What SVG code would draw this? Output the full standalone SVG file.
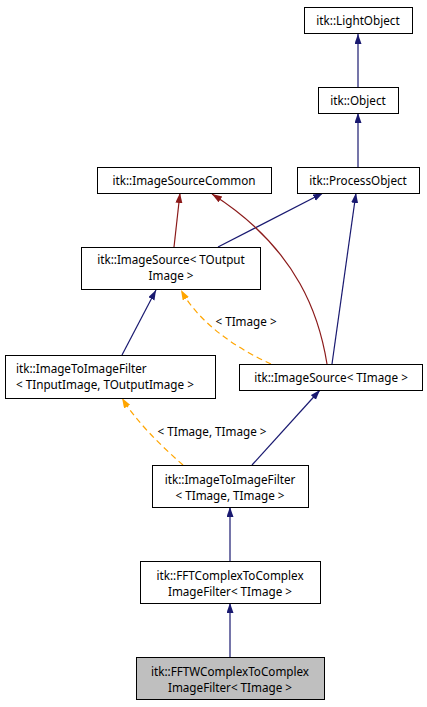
<svg xmlns="http://www.w3.org/2000/svg" width="427" height="707" viewBox="0 0 427 707">
<defs>
<style>
.box{fill:#ffffff;stroke:#000000;stroke-width:1}
.cur{fill:#bfbfbf;stroke:#000000;stroke-width:1}
text{font-family:"Noto Sans","DejaVu Sans",sans-serif;font-size:11.7px;fill:#000000}
.c{text-anchor:middle}
.e{fill:none;stroke-width:1.2}
.b{stroke:#191970}
.r{stroke:#8b1a1a}
.o{stroke:#ffa500;stroke-dasharray:6,4}
</style>
<marker id="ab" markerUnits="userSpaceOnUse" markerWidth="11" markerHeight="8" refX="10" refY="3.5" orient="auto"><path d="M0,0 L10,3.5 L0,7 z" fill="#191970"/></marker>
<marker id="ar" markerUnits="userSpaceOnUse" markerWidth="11" markerHeight="8" refX="10" refY="3.5" orient="auto"><path d="M0,0 L10,3.5 L0,7 z" fill="#8b1a1a"/></marker>
<marker id="ao" markerUnits="userSpaceOnUse" markerWidth="11" markerHeight="8" refX="10" refY="3.5" orient="auto"><path d="M0,0 L10,3.5 L0,7 z" fill="#ffa500"/></marker>
</defs>
<rect width="427" height="707" fill="#ffffff"/>
<g id="edges">
<path class="e b" d="M358,87 L358,34" marker-end="url(#ab)"/>
<path class="e b" d="M358,167 L358,113" marker-end="url(#ab)"/>
<path class="e r" d="M174,247 L180,193" marker-end="url(#ar)"/>
<path class="e b" d="M218,247 L323,193" marker-end="url(#ab)"/>
<path class="e r" d="M327,364 C320,320 300,250 212,194" marker-end="url(#ar)"/>
<path class="e b" d="M332,364 L356,193" marker-end="url(#ab)"/>
<path class="e o" d="M271,364 C240,350 200,325 181,290" marker-end="url(#ao)"/>
<text class="c" x="246" y="326">&lt; TImage &gt;</text>
<path class="e b" d="M122,355 L156,290" marker-end="url(#ab)"/>
<path class="e o" d="M183,465 C160,445 135,420 122,398" marker-end="url(#ao)"/>
<text class="c" x="212" y="436">&lt; TImage, TImage &gt;</text>
<path class="e b" d="M252,465 L320,390" marker-end="url(#ab)"/>
<path class="e b" d="M230,561 L230,507" marker-end="url(#ab)"/>
<path class="e b" d="M230,657 L230,603" marker-end="url(#ab)"/>
</g>
<g id="n-lightobject"><rect class="box" x="304.5" y="7.5" width="108" height="26"/><text class="c" x="358" y="25">itk::LightObject</text></g>
<g id="n-object"><rect class="box" x="318.5" y="87.5" width="80" height="26"/><text class="c" x="358" y="105">itk::Object</text></g>
<g id="n-processobject"><rect class="box" x="297.5" y="167.5" width="122" height="26"/><text class="c" x="358" y="185">itk::ProcessObject</text></g>
<g id="n-imagesourcecommon"><rect class="box" x="97.5" y="167.5" width="174" height="26"/><text class="c" x="184" y="185">itk::ImageSourceCommon</text></g>
<g id="n-imagesource-toutput"><rect class="box" x="81.5" y="247.5" width="179" height="42"/><text class="c" x="171" y="264">itk::ImageSource&lt; TOutput</text><text class="c" x="171" y="280">Image &gt;</text></g>
<g id="n-imagetoimagefilter-tin"><rect class="box" x="5.5" y="355.5" width="210" height="43"/><text x="16" y="373">itk::ImageToImageFilter</text><text x="16" y="389">&lt; TInputImage, TOutputImage &gt;</text></g>
<g id="n-imagesource-timage"><rect class="box" x="239.5" y="364.5" width="183" height="26"/><text class="c" x="331" y="382">itk::ImageSource&lt; TImage &gt;</text></g>
<g id="n-imagetoimagefilter-timage"><rect class="box" x="152.5" y="465.5" width="156" height="42"/><text class="c" x="230" y="484">itk::ImageToImageFilter</text><text class="c" x="230" y="500">&lt; TImage, TImage &gt;</text></g>
<g id="n-fftcomplex"><rect class="box" x="140.5" y="561.5" width="180" height="42"/><text class="c" x="230" y="580">itk::FFTComplexToComplex</text><text class="c" x="230" y="596">ImageFilter&lt; TImage &gt;</text></g>
<g id="n-fftwcomplex"><rect class="cur" x="136.5" y="657.5" width="188" height="42"/><text class="c" x="230" y="676">itk::FFTWComplexToComplex</text><text class="c" x="230" y="692">ImageFilter&lt; TImage &gt;</text></g>
</svg>
